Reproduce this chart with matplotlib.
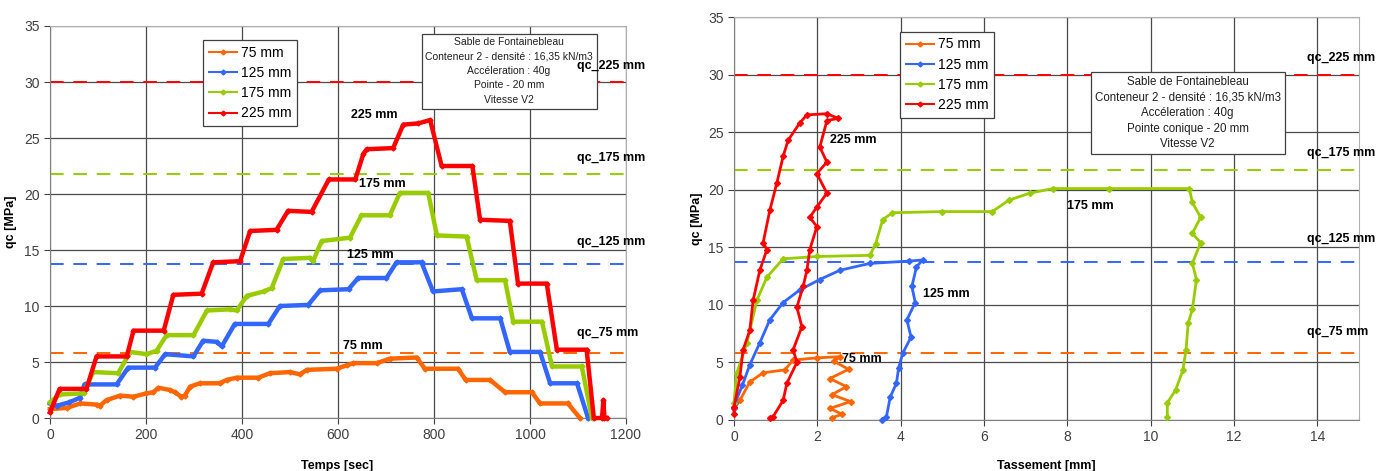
import matplotlib
matplotlib.use("Agg")
import matplotlib.pyplot as plt

plt.rcParams["font.family"] = ["Liberation Sans", "DejaVu Sans"]

COLORS = {"75 mm": "#ff6600", "125 mm": "#3366ff", "175 mm": "#99cc00", "225 mm": "#ff0000"}
series_names = ["75 mm", "125 mm", "175 mm", "225 mm"]

# reference qc values (dashed lines)
qc_ref = {"75 mm": 5.8, "125 mm": 13.75, "175 mm": 21.75, "225 mm": 30.0}

# --- left panel: qc vs time ---
t_75 = [0, 35, 63, 97, 104, 118, 146, 174, 201, 215, 226, 250, 260, 274, 281, 292, 312, 354,
        368, 389, 434, 458, 500, 521, 535, 597, 618, 632, 681, 708, 764, 781, 850, 866, 917,
        948, 1004, 1021, 1079, 1104]
q_75 = [0.8, 0.9, 1.3, 1.2, 1.1, 1.6, 2.0, 1.9, 2.2, 2.3, 2.7, 2.5, 2.3, 1.9, 2.0, 2.8, 3.1, 3.1,
        3.4, 3.6, 3.6, 4.0, 4.1, 3.9, 4.3, 4.4, 4.7, 4.9, 4.9, 5.3, 5.4, 4.4, 4.4, 3.4, 3.4,
        2.3, 2.3, 1.3, 1.3, 0.0]

t_125 = [0, 15, 40, 62, 72, 139, 163, 219, 240, 299, 319, 347, 358, 385, 455, 479, 538, 563,
         622, 642, 701, 722, 774, 798, 858, 879, 938, 958, 1021, 1042, 1098, 1121]
q_125 = [1.3, 1.1, 1.4, 1.8, 3.0, 3.0, 4.5, 4.5, 5.7, 5.5, 6.9, 6.8, 6.4, 8.4, 8.4, 10.0, 10.1, 11.4,
         11.5, 12.5, 12.5, 13.9, 13.9, 11.3, 11.5, 8.9, 8.9, 5.9, 5.9, 3.1, 3.1, 0.0]

t_175 = [0, 20, 70, 90, 142, 167, 201, 222, 243, 299, 327, 375, 389, 410, 445, 462, 486, 542,
         548, 566, 625, 649, 708, 729, 788, 806, 868, 889, 948, 965, 1025, 1046, 1108, 1129]
q_175 = [1.4, 2.1, 2.2, 4.1, 4.0, 5.9, 5.7, 6.0, 7.4, 7.4, 9.6, 9.7, 9.6, 10.9, 11.3, 11.6, 14.2, 14.3,
         14.0, 15.8, 16.1, 18.1, 18.1, 20.1, 20.1, 16.3, 16.2, 12.3, 12.3, 8.6, 8.6, 4.6, 4.6, 0.0]

t_225 = [0, 20, 76, 97, 160, 174, 237, 257, 316, 340, 396, 417, 472, 496, 545, 581, 636, 653,
         660, 715, 736, 767, 792, 816, 880, 896, 958, 975, 1035, 1056, 1118, 1133, 1150, 1153,
         1155, 1160]
q_225 = [0.5, 2.6, 2.6, 5.5, 5.5, 7.8, 7.8, 11.0, 11.1, 13.9, 14.0, 16.7, 16.8, 18.5, 18.4, 21.3, 21.3, 23.6,
         24.0, 24.1, 26.2, 26.3, 26.6, 22.5, 22.5, 17.7, 17.6, 12.0, 12.0, 6.1, 6.1, 0.0, 0.0, 1.6,
         0.0, 0.0]

# --- right panel: qc vs settlement ---
s_75 = [0.0, 0.14, 0.38, 0.7, 1.22, 1.42, 2.0, 2.55, 2.4, 2.75, 2.3, 2.7, 2.35, 2.8, 2.3, 2.6, 2.35]
p_75 = [1.0, 1.7, 3.3, 4.1, 4.35, 5.2, 5.4, 5.5, 5.1, 4.4, 3.6, 2.9, 2.2, 1.6, 1.0, 0.5, 0.2]

s_125 = [0.0, 0.03, 0.2, 0.38, 0.62, 0.86, 1.18, 1.58, 2.06, 2.54, 3.26, 4.2, 4.53, 4.38, 4.27,
         4.35, 4.15, 4.25, 4.05, 3.95, 3.9, 3.75, 3.66, 3.55]
p_125 = [1.0, 1.5, 3.0, 4.8, 6.7, 8.7, 10.2, 11.3, 12.2, 13.0, 13.6, 13.8, 13.9, 13.3, 11.6,
         10.2, 8.7, 7.2, 5.8, 4.5, 3.2, 2.0, 0.3, 0.0]

s_175 = [0.0, 0.07, 0.31, 0.55, 0.79, 1.18, 2.0, 3.26, 3.4, 3.57, 3.8, 5.0, 6.2, 6.6, 7.1, 7.65,
         9.0, 10.93, 11.0, 11.2, 11.0, 11.2, 11.0, 11.1, 11.0, 10.9, 10.85, 10.77, 10.6, 10.4, 10.4]
p_175 = [1.5, 4.1, 6.7, 10.4, 12.4, 14.0, 14.2, 14.3, 15.3, 17.4, 18.0, 18.1, 18.1, 19.1, 19.7, 20.1,
         20.1, 20.1, 18.9, 17.6, 16.2, 15.4, 13.6, 12.2, 9.6, 8.4, 6.1, 4.3, 2.6, 1.5, 0.3]

s_225 = [0.0, 0.0, 0.14, 0.22, 0.38, 0.46, 0.62, 0.79, 0.70, 0.86, 1.03, 1.18, 1.3, 1.58, 1.75,
         2.23, 2.5, 2.23, 2.06, 2.23, 1.99, 2.23, 1.99, 1.82, 1.99, 1.82, 1.75, 1.66, 1.51, 1.63,
         1.42, 1.51, 1.27, 1.18, 0.94, 0.86]
p_225 = [0.5, 1.1, 3.7, 6.1, 7.8, 10.4, 13.0, 14.8, 15.4, 18.2, 20.6, 22.9, 24.3, 25.8, 26.5,
         26.6, 26.2, 26.0, 23.7, 22.4, 21.4, 19.7, 18.5, 17.6, 16.8, 14.8, 13.0, 11.6, 9.8, 8.1,
         6.1, 5.0, 3.2, 1.7, 0.3, 0.2]

time_data = {"75 mm": (t_75, q_75), "125 mm": (t_125, q_125),
             "175 mm": (t_175, q_175), "225 mm": (t_225, q_225)}
sett_data = {"75 mm": (s_75, p_75), "125 mm": (s_125, p_125),
             "175 mm": (s_175, p_175), "225 mm": (s_225, p_225)}

# curve labels (x, y) in data units
time_labels = {"225 mm": (675, 27.05), "175 mm": (693, 20.9), "125 mm": (667, 14.55), "75 mm": (652, 6.4)}
sett_labels = {"225 mm": (2.31, 24.3), "175 mm": (8.0, 18.6), "125 mm": (4.53, 10.9), "75 mm": (2.6, 5.3)}
qc_label_y = {"225 mm": 31.4, "175 mm": 23.2, "125 mm": 15.7, "75 mm": 7.6}

info_left = "Sable de Fontainebleau\nConteneur 2 - densité : 16,35 kN/m3\nAccéleration : 40g\nPointe - 20 mm\nVitesse V2"
info_right = "Sable de Fontainebleau\nConteneur 2 - densité : 16,35 kN/m3\nAccéleration : 40g\nPointe conique - 20 mm\nVitesse V2"

fig = plt.figure(figsize=(13.88, 4.71), dpi=100)
ax1 = fig.add_axes([0.036, 0.1125, 0.415, 0.8323])
ax2 = fig.add_axes([0.5288, 0.1083, 0.4503, 0.8556])


def style_axes(ax, xmax, xstep, xlabel, xlabel_pos, ylabel_x):
    ax.set_xlim(0, xmax)
    ax.set_ylim(0, 35)
    ax.set_xticks(range(0, int(xmax) + 1 if xmax % xstep == 0 else int(xmax), xstep))
    ax.set_yticks(range(0, 36, 5))
    ax.grid(True, color="#4a4a4a", linewidth=0.9)
    ax.set_axisbelow(True)
    for side in ("top", "right"):
        ax.spines[side].set_color("#b0b0b0")
    for side in ("left", "bottom"):
        ax.spines[side].set_color("#808080")
    ax.tick_params(colors="#404040", labelsize=10, length=4, width=0.8, direction="out")
    ax.set_xlabel(xlabel, fontsize=9, fontweight="bold")
    ax.xaxis.set_label_coords(*xlabel_pos)
    ax.set_ylabel("qc [MPa]", fontsize=9, fontweight="bold")
    ax.yaxis.set_label_coords(ylabel_x, 0.5)


style_axes(ax1, 1200, 200, "Temps [sec]", (0.498, -0.107), -0.058)
style_axes(ax2, 15, 2, "Tassement [mm]", (0.5, -0.099), -0.05)

for ax, data, lw, ms, labels, xmax in [
    (ax1, time_data, 3.2, 2.5, time_labels, 1200),
    (ax2, sett_data, 2.0, 3.0, sett_labels, 15),
]:
    for name in series_names:
        ax.axhline(qc_ref[name], color=COLORS[name], linestyle=(0, (7, 5)), linewidth=1.4, zorder=2)
    for name in series_names:
        xs, ys = data[name]
        ax.plot(xs, ys, color=COLORS[name], linewidth=lw, marker="D", markersize=ms,
                label=name, zorder=3, clip_on=False)
        lx, ly = labels[name]
        ax.text(lx, ly, name, fontsize=9, fontweight="bold", ha="center" if ax is ax1 else "left",
                va="center", zorder=5)
    for name in series_names:
        ax.text(xmax * (1 - 0.085) if ax is ax1 else 13.75, qc_label_y[name], "qc_" + name,
                fontsize=9, fontweight="bold", ha="left", va="center", zorder=8, clip_on=False)

for ax, anchor in [(ax1, (0.266, 0.964)), (ax2, (0.266, 0.963))]:
    handles = [plt.Line2D([], [], color=COLORS[n], linewidth=1.5, marker="D", markersize=2.5)
               for n in series_names]
    leg = ax.legend(handles, series_names, loc="upper left", bbox_to_anchor=anchor,
                    fontsize=10, frameon=True, fancybox=False, framealpha=1,
                    edgecolor="#404040", handlelength=2.0, handletextpad=0.3,
                    borderpad=0.4, labelspacing=0.45, borderaxespad=0)
    leg.get_frame().set_linewidth(0.9)
    leg.set_zorder(6)

ax1.text(0.797, 0.885, info_left, transform=ax1.transAxes, ha="center", va="center",
         fontsize=7.5, linespacing=1.55, color="#202020", zorder=6,
         bbox=dict(boxstyle="square,pad=0.35", facecolor="white", edgecolor="#404040", linewidth=0.9))
ax2.text(0.726, 0.761, info_right, transform=ax2.transAxes, ha="center", va="center",
         fontsize=8.3, linespacing=1.38, color="#202020", zorder=6,
         bbox=dict(boxstyle="square,pad=0.35", facecolor="white", edgecolor="#404040", linewidth=0.9))

fig.savefig("out.png", dpi=100)
